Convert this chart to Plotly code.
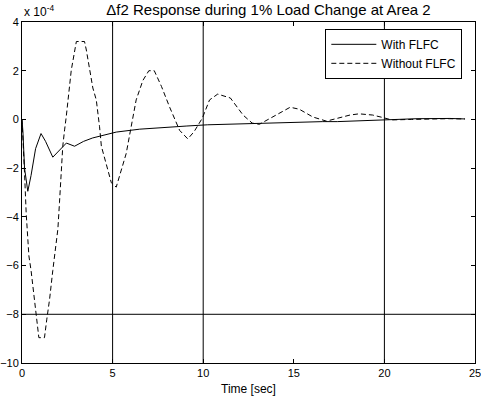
import plotly.graph_objects as go

# ---- data (values in units of 1e-4) ----
t_with = [0, 0.05, 0.14, 0.32, 0.5, 0.75, 1.05, 1.3, 1.7, 2.1, 2.45, 2.9, 3.4, 3.9, 4.3,
          5.2, 6.5, 7.2, 8.2, 9.1, 10.25, 12.0, 13.8, 15.8, 16.6, 17.4, 18.5, 19.5,
          20.4, 21.8, 23.6, 24.45]
v_with = [0, -0.5, -2.0, -2.95, -2.3, -1.2, -0.58, -0.9, -1.55, -1.25, -0.97, -1.1, -0.9,
          -0.76, -0.68, -0.52, -0.4, -0.36, -0.3, -0.27, -0.22, -0.18, -0.15, -0.12, -0.09,
          -0.09, -0.06, -0.03, 0.0, 0.03, 0.04, 0.02]

t_without = [0, 0.06, 0.14, 0.23, 0.38, 0.5, 0.69, 0.82, 0.93, 1.08, 1.24, 1.37, 1.52, 1.7,
             1.98, 2.07, 2.17, 2.25, 2.35, 2.44, 2.72, 3.0, 3.2, 3.45, 3.55, 3.73, 3.91, 4.1,
             4.19, 4.28, 4.38, 4.65, 4.93, 5.2, 5.75, 6.1, 6.3, 6.67, 7.0, 7.3, 7.7, 8.15,
             8.7, 9.15, 9.5, 9.95, 10.35, 10.8, 11.5, 12.2, 12.7, 13.1, 13.85, 14.8, 15.3,
             16.05, 16.8, 17.5, 18.1, 18.6, 19.35, 19.9, 20.4, 21.5, 22.5, 23.5, 24.45]
v_without = [0, -0.8, -2.2, -3.84, -5.6, -6.2, -7.5, -8.2, -8.96, -8.96, -8.96, -8.2, -7.4,
             -6.2, -4.5, -3.4, -2.2, -1.1, -0.43, 0.1, 2.03, 3.2, 3.2, 3.2, 2.85, 2.03, 1.29,
             0.8, 0.27, -0.3, -1.1, -1.8, -2.6, -2.78, -1.4, 0.0, 0.8, 1.6, 2.0, 2.0, 1.35,
             0.5, -0.45, -0.8, -0.5, 0.05, 0.8, 1.04, 0.88, 0.18, -0.15, -0.2, 0.12, 0.5,
             0.42, 0.1, -0.07, 0.05, 0.18, 0.23, 0.18, 0.08, -0.02, 0.0, 0.02, 0.03, 0.02]

x_ticks = [0, 5, 10, 15, 20, 25]
y_ticks = [-10, -8, -6, -4, -2, 0, 2, 4]
grid_x = [5, 10, 20]
grid_y = [-8]

FONT = "Liberation Sans, Arial, sans-serif"

fig = go.Figure()
fig.add_trace(go.Scatter(x=t_with, y=v_with, mode="lines", name="With FLFC",
                         line=dict(color="black", width=1)))
fig.add_trace(go.Scatter(x=t_without, y=v_without, mode="lines", name="Without FLFC",
                         line=dict(color="black", width=1, dash="5px,3px")))

for gx in grid_x:
    fig.add_vline(x=gx, line=dict(color="black", width=1), layer="below")
for gy in grid_y:
    fig.add_hline(y=gy, line=dict(color="black", width=1), layer="below")

axis_common = dict(showline=True, linecolor="black", linewidth=1, mirror="ticks",
                   ticks="inside", ticklen=4, tickcolor="black", showgrid=False,
                   zeroline=False, automargin=False, ticklabeloverflow="allow")

fig.update_xaxes(range=[0, 25], tickvals=x_ticks,
                 tickfont=dict(family=FONT, size=11, color="black"),
                 title=dict(text="Time [sec]", font=dict(family=FONT, size=12, color="black"),
                            standoff=6),
                 **axis_common)
fig.update_yaxes(range=[-10, 4], tickvals=y_ticks, ticklabelstandoff=0,
                 tickfont=dict(family=FONT, size=11, color="black"),
                 **axis_common)

fig.add_annotation(text="x 10<sup>-4</sup>", xref="paper", yref="paper", x=0, y=1,
                   xanchor="left", yanchor="bottom", showarrow=False, yshift=1,
                   font=dict(family=FONT, size=12, color="black"))

fig.update_layout(
    width=481, height=398,
    margin=dict(l=22, r=6, t=22, b=35),
    paper_bgcolor="white", plot_bgcolor="white",
    title=dict(text="Δf2 Response during 1% Load Change at Area 2",
               x=268.5 / 481, xanchor="center", xref="container",
               y=1 - 10 / 398, yanchor="middle", yref="container",
               font=dict(family=FONT, size=15, color="black")),
    legend=dict(x=0.972, xanchor="right", y=0.98, yanchor="top",
                bgcolor="white", bordercolor="black", borderwidth=1,
                font=dict(family=FONT, size=12, color="black"),
                itemwidth=45, tracegroupgap=0),
    showlegend=True,
)

fig.write_html("out.html", post_script="document.body.style.margin='0';",
               config={"displayModeBar": False})
